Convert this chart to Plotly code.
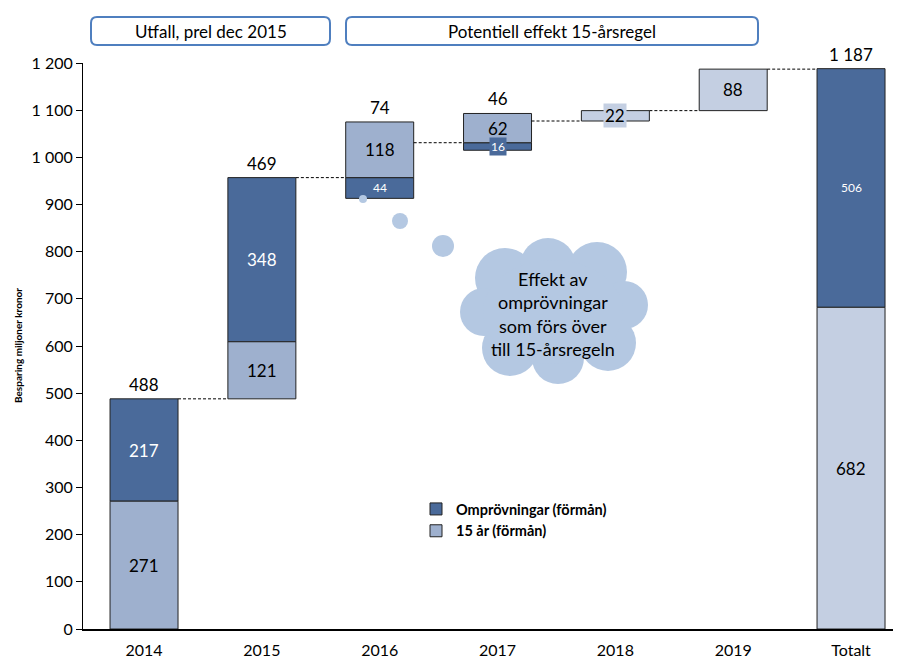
import plotly.graph_objects as go

# data
categories = ["2014", "2015", "2016", "2017", "2018", "2019", "Totalt"]
omprovningar = [217, 348, -44, -16, 0, 0]   # per year
femton_ar = [271, 121, 118, 62, 22, 88]     # per year
total_omprovningar = 506
total_femton_ar = 682

DARK = "#4A6A9A"
LIGHT = "#9EB0CE"
PALE = "#C4CFE2"
CLOUD = "#B4C8E2"
FONT = "Lato"

# page is rendered with an 8px body margin, so the figure is shrunk to fit
PAGE_W, PAGE_H, OFF = 901, 664, 8
W, H = PAGE_W - OFF, PAGE_H - OFF
AX_X, AX_TOP, AX_BOT = 83, 63, 629     # page pixels of plot area
L, T, B = AX_X - OFF, AX_TOP - OFF, PAGE_H - AX_BOT
PW, PH = W - L, H - T - B


def px_x(p):
    return (p - AX_X) / PW


def px_y(p):
    return (AX_BOT - p) / PH


def fmt(v):
    return f"{v:,}".replace(",", " ")


# waterfall bookkeeping
starts, nets = [], []
run = 0
for o, f in zip(omprovningar, femton_ar):
    starts.append(run)
    nets.append(o + f)
    run += o + f
grand_total = run

n_years = len(omprovningar)
tot_i = n_years
bw = 0.577

dark_x, dark_base, dark_h = [], [], []
light_x, light_base, light_h = [], [], []
pale_x, pale_base, pale_h = [], [], []
for i, (o, f) in enumerate(zip(omprovningar, femton_ar)):
    s = starts[i]
    if o == 0:
        pale_x.append(i); pale_base.append(s); pale_h.append(f)
        continue
    light_x.append(i); light_base.append(s); light_h.append(f)
    dark_x.append(i)
    dark_base.append(s + f if o > 0 else s + o)
    dark_h.append(abs(o))

pale_x.append(tot_i); pale_base.append(0); pale_h.append(total_femton_ar)
dark_x.append(tot_i); dark_base.append(total_femton_ar); dark_h.append(total_omprovningar)

fig = go.Figure()
fig.add_trace(go.Bar(x=dark_x, y=dark_h, base=dark_base, width=bw,
                     name="Omprövningar (förmån)", marker_color=DARK,
                     marker_line=dict(color="#222", width=1)))
fig.add_trace(go.Bar(x=light_x, y=light_h, base=light_base, width=bw,
                     name="15 år (förmån)", marker_color=LIGHT,
                     marker_line=dict(color="#222", width=1)))
fig.add_trace(go.Bar(x=pale_x, y=pale_h, base=pale_base, width=bw,
                     name="15 år", marker_color=PALE, showlegend=False,
                     marker_line=dict(color="#222", width=1)))

# connectors
ends = [s + nv for s, nv in zip(starts, nets)]
cx, cy = [], []
for i in range(n_years):
    cx += [i + bw / 2, i + 1 - bw / 2, None]
    cy += [ends[i], ends[i], None]
fig.add_trace(go.Scatter(x=cx, y=cy, mode="lines", showlegend=False,
                         hoverinfo="skip",
                         line=dict(color="black", width=1, dash="3px,2px")))

ann = []
# labels inside light / pale bars
for xs, bs, hs, col in [(light_x, light_base, light_h, LIGHT),
                        (pale_x, pale_base, pale_h, PALE)]:
    for x, b, h in zip(xs, bs, hs):
        small = h < 30
        ann.append(dict(x=x, y=b + h / 2, text=fmt(h), showarrow=False,
                        font=dict(family=FONT, size=17, color="black"),
                        bgcolor=col if small else None, borderpad=1))
# labels inside dark bars
for x, b, h in zip(dark_x, dark_base, dark_h):
    big = x < 2
    ann.append(dict(x=x, y=b + h / 2, text=fmt(h), showarrow=False,
                    font=dict(family=FONT, size=17 if big else 12, color="white"),
                    bgcolor=DARK if h < 30 else None, borderpad=1))
# net labels above two-part bars
for i in range(n_years):
    if omprovningar[i] == 0:
        continue
    top = max(starts[i] + femton_ar[i], starts[i] + nets[i])
    ann.append(dict(x=i, y=top, text=fmt(nets[i]), showarrow=False,
                    yanchor="bottom", yshift=2,
                    font=dict(family=FONT, size=17, color="black")))
ann.append(dict(x=tot_i, y=total_femton_ar + total_omprovningar, text=fmt(grand_total),
                showarrow=False, yanchor="bottom", yshift=2,
                font=dict(family=FONT, size=17, color="black")))

# y title
ann.append(dict(xref="paper", yref="paper", x=px_x(18), y=px_y(346),
                xanchor="center", yanchor="middle",
                text="<b>Besparing miljoner kronor</b>", textangle=-90,
                showarrow=False, font=dict(family=FONT, size=10, color="black")))

shapes = []


def rounded_box(x0, y0, x1, y1, r):
    X = lambda p: px_x(p)
    Y = lambda p: px_y(p)
    path = (f"M {X(x0 + r)},{Y(y0)} L {X(x1 - r)},{Y(y0)} "
            f"Q {X(x1)},{Y(y0)} {X(x1)},{Y(y0 + r)} L {X(x1)},{Y(y1 - r)} "
            f"Q {X(x1)},{Y(y1)} {X(x1 - r)},{Y(y1)} L {X(x0 + r)},{Y(y1)} "
            f"Q {X(x0)},{Y(y1)} {X(x0)},{Y(y1 - r)} L {X(x0)},{Y(y0 + r)} "
            f"Q {X(x0)},{Y(y0)} {X(x0 + r)},{Y(y0)} Z")
    return dict(type="path", xref="paper", yref="paper", path=path,
                line=dict(color="#4F7FBF", width=2), fillcolor="white")


for (x0, x1, label) in [(91, 330, "Utfall, prel dec 2015"),
                        (346, 758, "Potentiell effekt 15-årsregel")]:
    shapes.append(rounded_box(x0, 17, x1, 45, 6))
    ann.append(dict(xref="paper", yref="paper", x=px_x((x0 + x1) / 2), y=px_y(31),
                    xanchor="center", yanchor="middle",
                    text=label, showarrow=False,
                    font=dict(family=FONT, size=17, color="black")))


def circle(cxp, cyp, rx, ry=None):
    ry = rx if ry is None else ry
    return dict(type="circle", xref="paper", yref="paper",
                x0=px_x(cxp - rx), x1=px_x(cxp + rx),
                y0=px_y(cyp + ry), y1=px_y(cyp - ry),
                fillcolor=CLOUD, line=dict(width=0), layer="above")


# thought bubbles and cloud
for c in [(363, 199, 4), (400, 221, 8), (443, 246, 11)]:
    shapes.append(circle(*c))
for c in [(505, 278, 30), (548, 266, 28), (597, 272, 30), (624, 305, 24),
          (608, 343, 28), (558, 358, 26), (510, 348, 28), (484, 312, 24),
          (553, 312, 70, 52)]:
    shapes.append(circle(*c))
ann.append(dict(xref="paper", yref="paper", x=px_x(553), y=px_y(314),
                xanchor="center", yanchor="middle",
                text="Effekt av<br>omprövningar<br>som förs över<br>till 15-årsregeln",
                showarrow=False, align="center",
                font=dict(family=FONT, size=18, color="black")))

fig.update_layout(
    width=W, height=H,
    margin=dict(l=L, r=0, t=T, b=B, autoexpand=False),
    barmode="overlay",
    plot_bgcolor="white", paper_bgcolor="white",
    separators=", ",
    font=dict(family=FONT, color="black"),
    annotations=ann, shapes=shapes,
    legend=dict(x=px_x(416), y=px_y(493), xanchor="left", yanchor="top",
                font=dict(family=FONT, size=14.5, color="black", weight="bold"),
                bgcolor="rgba(0,0,0,0)", tracegroupgap=4),
    xaxis=dict(range=[-0.518, 6.424], tickvals=list(range(len(categories))),
               ticktext=categories, showgrid=False, zeroline=False,
               showline=True, linecolor="black", linewidth=2, ticks="",
               ticklabelstandoff=6, tickfont=dict(family=FONT, size=16)),
    yaxis=dict(range=[0, 1200], dtick=100, showgrid=False, zeroline=False,
               showline=True, linecolor="black", linewidth=1, ticks="outside",
               ticklen=6, tickcolor="black", tickformat=",d",
               tickfont=dict(family=FONT, size=16)),
)

fig.write_html("out.html")
